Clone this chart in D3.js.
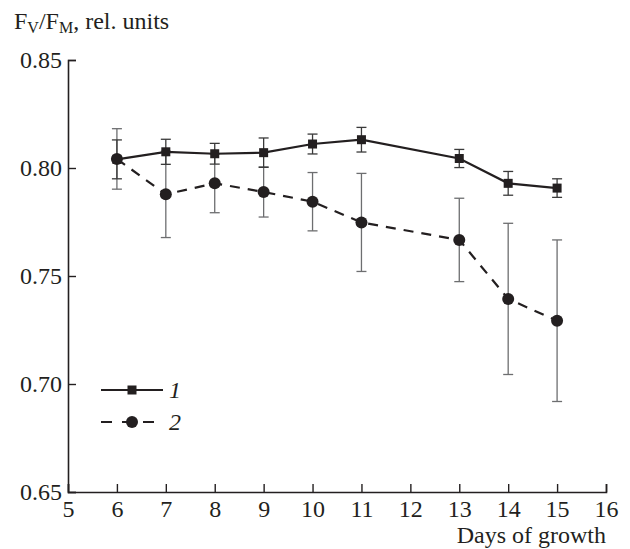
<!DOCTYPE html>
<html lang="en">
  <head>
    <meta charset="utf-8" />
    <script src="https://d3js.org/d3.v7.min.js"></script>
    <style>
      body { margin: 0; background: #fff; }
      text { font-family: "Liberation Serif", "DejaVu Serif", serif; fill: #231f20; }
    </style>
  </head>
  <body>
    <div id="chart"></div>
    <script>
      // data
      var days = [6, 7, 8, 9, 10, 11, 13, 14, 15];
      var s1Mean = [0.804, 0.8075, 0.8066, 0.8071, 0.8111, 0.8131, 0.8044, 0.7929, 0.7907];
      var s1Err = [0.009, 0.0058, 0.0048, 0.0068, 0.0046, 0.0057, 0.0042, 0.0055, 0.0043];
      var s2Mean = [0.8042, 0.7878, 0.7929, 0.7889, 0.7844, 0.7748, 0.7667, 0.7394, 0.7293];
      var s2Err = [0.014, 0.02, 0.0136, 0.0116, 0.0135, 0.0227, 0.0193, 0.035, 0.0374];
      var xTicks = [5, 6, 7, 8, 9, 10, 11, 12, 13, 14, 15, 16];
      var yTicks = [0.65, 0.7, 0.75, 0.8, 0.85];
      var seriesNames = ["1", "2"];

      var W = 630, H = 549;
      var margin = { top: 60, right: 24, bottom: 57, left: 68 };
      var width = W - margin.left - margin.right,
        height = H - margin.top - margin.bottom;

      var svg = d3.select("#chart").append("svg")
        .attr("width", W).attr("height", H);
      var g = svg.append("g")
        .attr("transform", "translate(" + margin.left + "," + margin.top + ")");

      var x = d3.scaleLinear().domain([5, 16]).range([0, width]);
      var y = d3.scaleLinear().domain([0.65, 0.85]).range([height, 0]);

      var ink = "#231f20";

      // axes
      var xAxis = g.append("g")
        .attr("transform", "translate(0," + height + ")")
        .call(d3.axisBottom(x).tickValues(xTicks).tickSize(-8).tickFormat(d3.format("d")));
      var yAxis = g.append("g")
        .call(d3.axisLeft(y).tickValues(yTicks).tickSize(-8).tickPadding(6).tickFormat(d3.format(".2f")));
      [xAxis, yAxis].forEach(function (a) {
        a.select(".domain").attr("stroke", ink).attr("stroke-width", 1.6);
        a.selectAll(".tick line").attr("stroke", ink).attr("stroke-width", 1.4);
        a.selectAll(".tick text").style("font-size", "24px")
          .attr("fill", ink).style("font-family", "'Liberation Serif', serif");
      });
      xAxis.selectAll(".tick text").attr("y", 25).attr("dy", 0);
      yAxis.selectAll(".tick text").attr("dy", "0.33em");

      // axis titles
      var yt = svg.append("text").attr("x", 14).attr("y", 29).style("font-size", "24px");
      yt.append("tspan").text("F");
      yt.append("tspan").text("V").style("font-size", "16px").attr("dy", 4);
      yt.append("tspan").text("/F").attr("dy", -4);
      yt.append("tspan").text("M").style("font-size", "16px").attr("dy", 4);
      yt.append("tspan").text(", rel. units").attr("dy", -4);

      svg.append("text")
        .attr("x", margin.left + width)
        .attr("y", 543)
        .attr("text-anchor", "end")
        .style("font-size", "24px")
        .text("Days of growth");

      var d1 = days.map(function (d, i) { return { x: d, y: s1Mean[i], e: s1Err[i] }; });
      var d2 = days.map(function (d, i) { return { x: d, y: s2Mean[i], e: s2Err[i] }; });

      function errorBars(data, color) {
        var eg = g.append("g").attr("stroke", color).attr("stroke-width", 1.3);
        data.forEach(function (d) {
          eg.append("line").attr("x1", x(d.x)).attr("x2", x(d.x))
            .attr("y1", y(d.y - d.e)).attr("y2", y(d.y + d.e));
          [d.y - d.e, d.y + d.e].forEach(function (v) {
            eg.append("line").attr("x1", x(d.x) - 5).attr("x2", x(d.x) + 5)
              .attr("y1", y(v)).attr("y2", y(v));
          });
        });
      }
      errorBars(d2, "#6d6e70");
      errorBars(d1, "#3a3a3a");

      var line = d3.line().x(function (d) { return x(d.x); }).y(function (d) { return y(d.y); });

      g.append("path").datum(d2).attr("d", line)
        .attr("fill", "none").attr("stroke", ink).attr("stroke-width", 2.2)
        .attr("stroke-dasharray", "10,8");
      g.append("path").datum(d1).attr("d", line)
        .attr("fill", "none").attr("stroke", ink).attr("stroke-width", 2.2);

      g.selectAll(".c2").data(d2).enter().append("circle")
        .attr("cx", function (d) { return x(d.x); })
        .attr("cy", function (d) { return y(d.y); })
        .attr("r", 6).attr("fill", ink);
      g.selectAll(".s1").data(d1).enter().append("rect")
        .attr("x", function (d) { return x(d.x) - 4.5; })
        .attr("y", function (d) { return y(d.y) - 4.5; })
        .attr("width", 9).attr("height", 9).attr("fill", ink);

      // legend
      var lg = svg.append("g");
      var ly = [390, 422];
      lg.append("line").attr("x1", 101).attr("x2", 163).attr("y1", ly[0]).attr("y2", ly[0])
        .attr("stroke", ink).attr("stroke-width", 2.2);
      lg.append("rect").attr("x", 127.5).attr("y", ly[0] - 4.5).attr("width", 9).attr("height", 9).attr("fill", ink);
      lg.append("line").attr("x1", 101).attr("x2", 155).attr("y1", ly[1]).attr("y2", ly[1])
        .attr("stroke", ink).attr("stroke-width", 2.2).attr("stroke-dasharray", "11,10");
      lg.append("circle").attr("cx", 132).attr("cy", ly[1]).attr("r", 6).attr("fill", ink);
      lg.selectAll(".lt").data(seriesNames).enter().append("text")
        .attr("x", 169).attr("y", function (d, i) { return ly[i] + 8; })
        .style("font-size", "24px").style("font-style", "italic")
        .text(function (d) { return d; });
    </script>
  </body>
</html>
